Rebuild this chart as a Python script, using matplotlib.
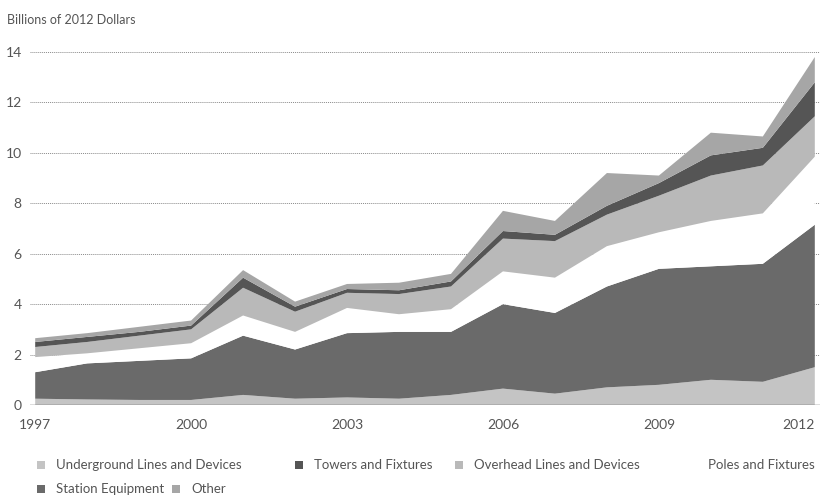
import numpy as np
import matplotlib.pyplot as plt
from matplotlib.patches import Rectangle

plt.rcParams['font.family'] = ['Lato', 'DejaVu Sans']

years = list(range(1997, 2013))

# billions of 2012 dollars (stacked bottom to top)
underground = [0.25, 0.22, 0.2, 0.2, 0.4, 0.25, 0.3, 0.25, 0.4, 0.65, 0.45, 0.7, 0.8, 1.0, 0.92, 1.5]
station = [1.05, 1.43, 1.55, 1.65, 2.35, 1.95, 2.55, 2.65, 2.5, 3.35, 3.2, 4.0, 4.6, 4.5, 4.68, 5.65]
poles = [0.6, 0.4, 0.5, 0.6, 0.8, 0.7, 1.0, 0.7, 0.9, 1.3, 1.4, 1.6, 1.45, 1.8, 2.0, 2.7]
overhead = [0.4, 0.45, 0.5, 0.55, 1.1, 0.8, 0.6, 0.8, 0.9, 1.3, 1.45, 1.25, 1.45, 1.8, 1.9, 1.6]
towers = [0.2, 0.2, 0.15, 0.15, 0.4, 0.2, 0.15, 0.15, 0.2, 0.3, 0.25, 0.35, 0.5, 0.8, 0.7, 1.35]
other = [0.15, 0.15, 0.2, 0.2, 0.3, 0.2, 0.2, 0.3, 0.3, 0.8, 0.55, 1.3, 0.3, 0.9, 0.45, 1.0]

names = ['Underground Lines and Devices', 'Station Equipment', 'Poles and Fixtures',
         'Overhead Lines and Devices', 'Towers and Fixtures', 'Other']
colors = ['#c4c4c4', '#6a6a6a', '#ffffff', '#b9b9b9', '#555555', '#a6a6a6']
txt = '#555555'

fig = plt.figure(figsize=(8.27, 4.99), dpi=100)
ax = fig.add_axes([30 / 827, 94 / 499, 790 / 827, 353 / 499])

ax.stackplot(years, underground, station, poles, overhead, towers, other,
             colors=colors, linewidth=0)

ax.set_xlim(1996.9, 2012.1)
ax.set_ylim(0, 14)
ax.set_yticks(range(0, 15, 2))
ax.set_xticks(range(1997, 2013, 3))
ax.grid(axis='y', linestyle=(0, (1, 1)), color='#8a8a8a', linewidth=0.7)
ax.set_axisbelow(True)
ax.axhline(0, color='#555555', linewidth=1.0)
for s in ax.spines.values():
    s.set_visible(False)
ax.tick_params(length=0, labelsize=10, labelcolor=txt)
ax.tick_params(axis='x', pad=10)
ax.tick_params(axis='y', pad=6)
ax.get_xticklabels()[-1].set_horizontalalignment('right')
for lab in ax.get_xticklabels()[-1:]:
    lab.set_x(2012.15)

fig.text(7 / 827, 1 - 20 / 499, 'Billions of 2012 Dollars', fontsize=9,
         color=txt, va='center', ha='left')

# legend laid out as in the reference: two rows
legend_rows = [
    [(0, 37), (4, 295), (3, 455), (2, 689)],
    [(1, 37), (5, 172)],
]
row_y = [465, 489]
for r, row in enumerate(legend_rows):
    yc = 1 - row_y[r] / 499
    for idx, xp in row:
        fig.patches.append(Rectangle((xp / 827, yc - 4 / 499), 8 / 827, 8 / 499,
                                     transform=fig.transFigure,
                                     facecolor=colors[idx], edgecolor='none'))
        fig.text((xp + 19) / 827, yc, names[idx], fontsize=9.5, color=txt,
                 va='center', ha='left')

fig.savefig('out.png', dpi=100)
